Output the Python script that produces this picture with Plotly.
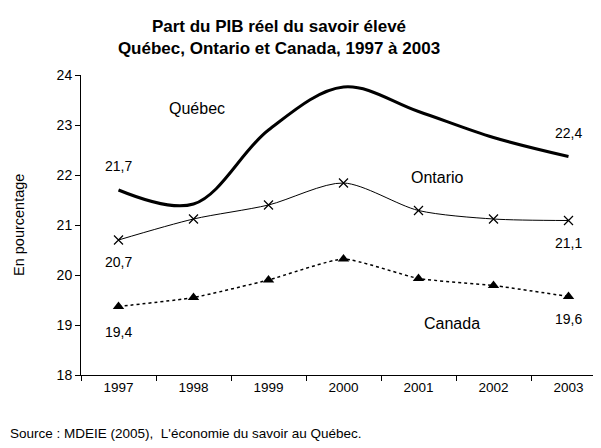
import plotly.graph_objects as go

years = ["1997", "1998", "1999", "2000", "2001", "2002", "2003"]
quebec = [21.7, 21.42, 22.9, 23.76, 23.27, 22.75, 22.37]
ontario = [20.7, 21.12, 21.4, 21.84, 21.29, 21.12, 21.09]
canada = [19.37, 19.55, 19.9, 20.32, 19.93, 19.79, 19.57]
y_ticks = [18, 19, 20, 21, 22, 23, 24]

FONT = "Liberation Sans, Arial, sans-serif"
# the page body has an 8px margin, so the figure is sized/positioned to compensate
OFF = 8
W, H = 601 - OFF, 448 - OFF
L, T = 81 - OFF, 75 - OFF
R = W - (600 - OFF)
B = H - (375 - OFF)
PW, PH = W - L - R, H - T - B

fig = go.Figure()
fig.add_trace(go.Scatter(x=years, y=quebec, mode="lines",
                         line=dict(color="black", width=3, shape="spline", smoothing=1),
                         showlegend=False))
fig.add_trace(go.Scatter(x=years, y=ontario, mode="lines+markers",
                         line=dict(color="black", width=1, shape="spline", smoothing=0.8),
                         marker=dict(symbol="x-thin-open", size=9, color="black",
                                     line=dict(color="black", width=1.2)),
                         showlegend=False))
fig.add_trace(go.Scatter(x=years, y=canada, mode="lines+markers",
                         line=dict(color="black", width=1.5, dash="dot", shape="spline", smoothing=0.5),
                         marker=dict(symbol="triangle-up", size=10, color="black"),
                         showlegend=False))

labels = [
    (1.05, 23.34, "Québec", 16),
    (0, 22.18, "21,7", 14),
    (0, 20.26, "20,7", 14),
    (0, 18.86, "19,4", 14),
    (6, 22.84, "22,4", 14),
    (4.25, 21.96, "Ontario", 16),
    (6, 20.64, "21,1", 14),
    (4.45, 19.04, "Canada", 16),
    (6, 19.12, "19,6", 14),
]
for x, y, t, s in labels:
    fig.add_annotation(x=x, y=y, text=t, showarrow=False, xref="x", yref="y",
                       font=dict(family=FONT, size=s, color="black"))

# source line
fig.add_annotation(x=-L / PW, y=-(433 - 375) / PH, xref="paper", yref="paper",
                   text="Source : MDEIE (2005),  L'économie du savoir au Québec.",
                   showarrow=False, xanchor="left", yanchor="middle",
                   font=dict(family=FONT, size=13.5, color="black"))
# y axis title
fig.add_annotation(x=(19 - 81) / PW, y=1 - (225 - 75) / PH, xref="paper", yref="paper",
                   text="En pourcentage", textangle=-90, showarrow=False,
                   xanchor="center", yanchor="middle",
                   font=dict(family=FONT, size=14.5, color="black"))

fig.update_layout(
    width=W, height=H,
    margin=dict(l=L, r=R, t=T, b=B, autoexpand=False),
    paper_bgcolor="white", plot_bgcolor="white",
    font=dict(family=FONT, size=12, color="black"),
    title=dict(text="<b>Part du PIB réel du savoir élevé<br>Québec, Ontario et Canada, 1997 à 2003</b>",
               x=(279 - OFF) / W, xanchor="center", y=1 - (32 - OFF) / H, yanchor="middle",
               font=dict(family=FONT, size=17, color="black")),
    xaxis=dict(type="category", range=[-0.5, 6.42], showline=True, linecolor="black", linewidth=1,
               ticks="outside", ticklen=5, tickcolor="black", tickson="boundaries",
               showgrid=False, zeroline=False, tickfont=dict(size=13.5), automargin=False),
    yaxis=dict(range=[18, 24], tickvals=y_ticks, showline=True, linecolor="black", linewidth=1,
               ticks="outside", ticklen=5, tickcolor="black", showgrid=False, zeroline=False,
               tickfont=dict(size=14), automargin=False),
)

fig.write_html("out.html")
